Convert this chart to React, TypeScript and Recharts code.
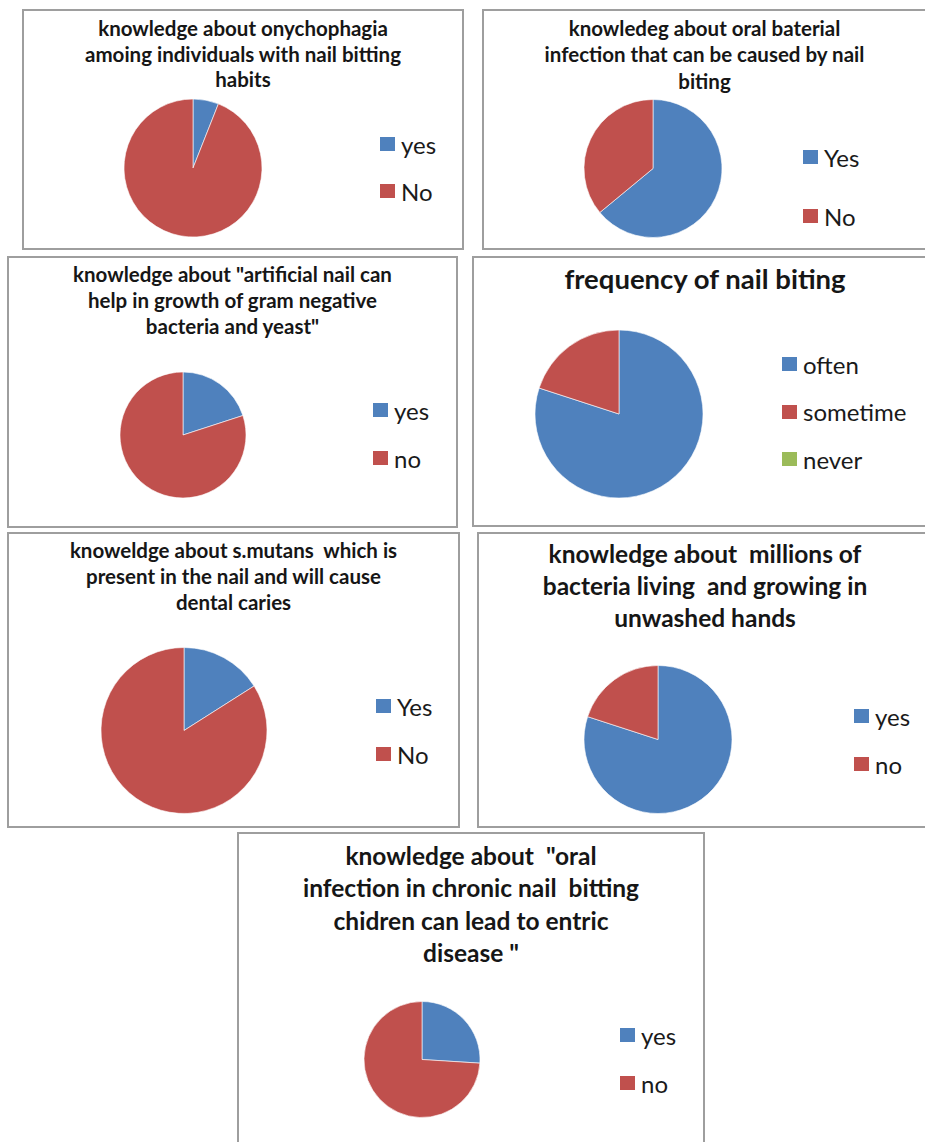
import { PieChart, Pie, Cell, Legend } from "recharts";

const COLORS = ["#4F81BD", "#C0504D", "#9BBB59"];
const FONT = "Lato, 'Liberation Sans', sans-serif";

// data (percent of respondents)
const onychophagiaLabels = ["yes", "No"];
const onychophagiaValues = [6, 94];
const oralInfectionLabels = ["Yes", "No"];
const oralInfectionValues = [64, 36];
const artificialNailLabels = ["yes", "no"];
const artificialNailValues = [20, 80];
const frequencyLabels = ["often", "sometime", "never"];
const frequencyValues = [80, 20, 0];
const mutansLabels = ["Yes", "No"];
const mutansValues = [16, 84];
const bacteriaLabels = ["yes", "no"];
const bacteriaValues = [80, 20];
const entericLabels = ["yes", "no"];
const entericValues = [26, 74];

const onychophagiaTitle = ["knowledge about onychophagia", "amoing individuals with nail bitting", "habits"];
const oralInfectionTitle = ["knowledeg about oral baterial", "infection that can be caused by nail", "biting"];
const artificialNailTitle = ['knowledge about "artificial nail can', "help in growth of gram negative", 'bacteria and yeast"'];
const frequencyTitle = ["frequency of nail biting"];
const mutansTitle = ["knoweldge about s.mutans  which is", "present in the nail and will cause", "dental caries"];
const bacteriaTitle = ["knowledge about  millions of", "bacteria living  and growing in", "unwashed hands"];
const entericTitle = ['knowledge about  "oral', "infection in chronic nail  bitting", "chidren can lead to entric", 'disease "'];

type Layout = {
  x: number; y: number; w: number; h: number;
  titleSize: number; titleTop: number; lineH: number;
  cx: number; cy: number; r: number;
  lx: number; ly: number; gap: number;
};

type PanelProps = { labels: string[]; values: number[]; title: string[]; layout: Layout };

const Panel = ({ labels, values, title, layout: l }: PanelProps) => {
  const data = labels.map((name, i) => ({ name, value: values[i] }));
  return (
    <div
      style={{
        position: "absolute", left: l.x, top: l.y, width: l.w, height: l.h,
        border: "2px solid #9e9e9e", boxSizing: "border-box", background: "#fff",
      }}
    >
      <div
        style={{
          position: "absolute", left: -2, width: l.w, top: l.titleTop - l.lineH / 2 - 1,
          textAlign: "center", fontFamily: FONT, fontWeight: 700, fontSize: l.titleSize,
          lineHeight: `${l.lineH}px`, color: "#161616", whiteSpace: "pre",
        }}
      >
        {title.map((t) => (
          <div key={t}>{t}</div>
        ))}
      </div>
      <div style={{ position: "absolute", left: -2, top: -2 }}>
        <PieChart width={l.w} height={l.h} margin={{ top: 0, right: 0, bottom: 0, left: 0 }}>
          <Pie
            data={data}
            dataKey="value"
            nameKey="name"
            cx={l.cx}
            cy={l.cy}
            outerRadius={l.r}
            startAngle={90}
            endAngle={-270}
            stroke="#ffffff"
            strokeWidth={0.6}
            isAnimationActive={false}
          >
            {data.map((d, i) => (
              <Cell key={d.name} fill={COLORS[i]} />
            ))}
          </Pie>
          <Legend
            layout="vertical"
            align="right"
            verticalAlign="top"
            wrapperStyle={{ left: l.lx, top: l.ly - 16, width: "auto" }}
            content={() => (
              <div>
                {data.map((d, i) => (
                  <div
                    key={d.name}
                    style={{
                      display: "flex", alignItems: "center", height: 28,
                      marginBottom: l.gap - 28, fontFamily: FONT, fontSize: 24, color: "#1a1a1a",
                    }}
                  >
                    <span style={{ width: 15, height: 14, background: COLORS[i], marginRight: 6, display: "inline-block" }} />
                    {d.name}
                  </div>
                ))}
              </div>
            )}
          />
        </PieChart>
      </div>
    </div>
  );
};

export default function App() {
  return (
    <div style={{ position: "absolute", left: 0, top: 0, width: 925, height: 1142, overflow: "hidden", background: "#fff" }}>
      <Panel labels={onychophagiaLabels} values={onychophagiaValues} title={onychophagiaTitle}
        layout={{ x: 22, y: 9, w: 442, h: 241, titleSize: 20.5, titleTop: 19, lineH: 25.5, cx: 171, cy: 159, r: 69, lx: 358, ly: 137, gap: 47 }} />
      <Panel labels={oralInfectionLabels} values={oralInfectionValues} title={oralInfectionTitle}
        layout={{ x: 482, y: 9, w: 445, h: 241, titleSize: 20.5, titleTop: 18, lineH: 26.5, cx: 171, cy: 159.5, r: 69, lx: 321, ly: 150, gap: 59 }} />
      <Panel labels={artificialNailLabels} values={artificialNailValues} title={artificialNailTitle}
        layout={{ x: 7, y: 256, w: 451, h: 272, titleSize: 20.5, titleTop: 17, lineH: 26, cx: 176, cy: 179, r: 63, lx: 366, ly: 156, gap: 48 }} />
      <Panel labels={frequencyLabels} values={frequencyValues} title={frequencyTitle}
        layout={{ x: 472, y: 256, w: 466, h: 271, titleSize: 27.5, titleTop: 22, lineH: 32, cx: 147, cy: 158, r: 84, lx: 310, ly: 110, gap: 47.5 }} />
      <Panel labels={mutansLabels} values={mutansValues} title={mutansTitle}
        layout={{ x: 7, y: 532, w: 453, h: 296, titleSize: 20.5, titleTop: 17, lineH: 26, cx: 177, cy: 198.5, r: 83, lx: 369, ly: 176, gap: 48 }} />
      <Panel labels={bacteriaLabels} values={bacteriaValues} title={bacteriaTitle}
        layout={{ x: 477, y: 532, w: 456, h: 296, titleSize: 24.5, titleTop: 21, lineH: 32, cx: 181, cy: 207.5, r: 74, lx: 377, ly: 186, gap: 48 }} />
      <Panel labels={entericLabels} values={entericValues} title={entericTitle}
        layout={{ x: 237, y: 832, w: 468, h: 330, titleSize: 24.5, titleTop: 23, lineH: 32.5, cx: 185, cy: 227.5, r: 58, lx: 383, ly: 205, gap: 48 }} />
    </div>
  );
}
